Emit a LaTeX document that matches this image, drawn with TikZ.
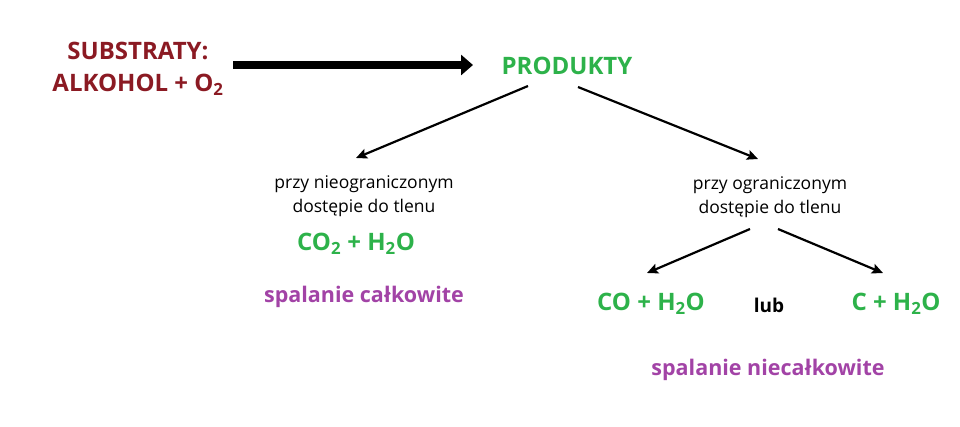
\documentclass[tikz,border=0pt]{standalone}
\usepackage{fontspec}
\setmainfont{Open Sans}
\usepackage{tikz}
\usetikzlibrary{arrows.meta, positioning}
\definecolor{subred}{HTML}{8B1A23}
\definecolor{prodgreen}{HTML}{2DB24A}
\definecolor{burnpurple}{HTML}{A243A6}
\tikzset{
  big/.style={font=\fontsize{24}{32}\selectfont\bfseries, inner sep=0pt, align=center},
  burn/.style={font=\fontsize{21.5}{26}\selectfont\bfseries, inner sep=0pt, text=burnpurple},
  small/.style={font=\fontsize{17.5}{24}\selectfont, inner sep=0pt, align=center},
  thin/.style={line width=2.2pt, -{Stealth[length=11pt, width=10pt, inset=2pt]}}
}
\begin{document}
\begin{tikzpicture}[x=1pt, y=-1pt]
    \useasboundingbox (0,0) rectangle (960,426);
    \node (sub) [big, text=subred] at (138,69){SUBSTRATY:\\ALKOHOL + O\textsubscript{2}};%draws substrates
    \node (prod) [big, text=prodgreen] at (567,66){PRODUKTY};%draws products
    \node (full) [small] at (364,196){przy nieograniczonym\\dostępie do tlenu};%unlimited oxygen
    \node (part) [small] at (770,197){przy ograniczonym\\dostępie do tlenu};%limited oxygen
    \node (co2) [big, text=prodgreen, below=16pt of full, xshift=-8pt]{CO\textsubscript{2} + H\textsubscript{2}O};%draws CO2 + H2O
    \node (fullname) [burn] at (364,297){spalanie całkowite};%complete combustion
    \node (co) [big, text=prodgreen] at (651,304){CO + H\textsubscript{2}O};%draws CO + H2O
    \node (lub) [font=\fontsize{19}{22}\selectfont\bfseries, inner sep=0pt] at (769,305){lub};%draws lub
    \node (c) [big, text=prodgreen] at (896,304){C + H\textsubscript{2}O};%draws C + H2O
    \node (partname) [burn] at (768,370){spalanie niecałkowite};%incomplete combustion
    \coordinate (a1) at (233,65);%start of main arrow
    \coordinate (a2) at (473,65);%end of main arrow
    \coordinate (l1) at (528,86);\coordinate (l2) at (356,158);
    \coordinate (r1) at (578,87);\coordinate (r2) at (758,159);
    \coordinate (s1) at (750,229);\coordinate (s2) at (647,273);
    \coordinate (t1) at (778,229);\coordinate (t2) at (883,273);
    \draw[line width=8pt, -{Triangle[length=12pt, width=20pt]}] (a1) -- (a2);%connects sub to prod
    \draw[thin] (l1) -- (l2);%connects prod to full
    \draw[thin] (r1) -- (r2);%connects prod to part
    \draw[thin] (s1) -- (s2);%connects part to co
    \draw[thin] (t1) -- (t2);%connects part to c
  \end{tikzpicture}
\end{document}
